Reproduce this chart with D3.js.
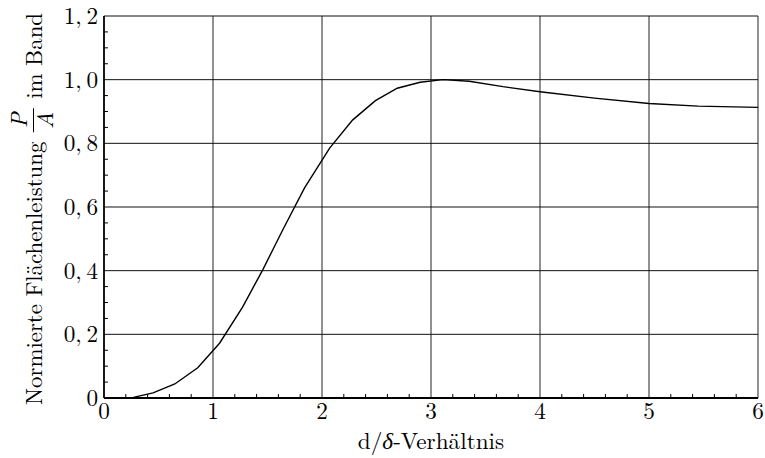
<!DOCTYPE html>
<html><head><meta charset="utf-8">
<script src="https://cdn.jsdelivr.net/npm/d3@7"></script>
<style>
body{margin:0;background:#fff;}
</style></head>
<body><svg id="c" width="765" height="458"></svg>
<script>
const xValues = [0, 0.27, 0.45, 0.65, 0.86, 1.06, 1.27, 1.46, 1.65, 1.84, 2.07, 2.28, 2.49, 2.69, 2.90, 3.11, 3.35, 3.66, 4.0, 4.5, 5.0, 5.45, 6.0];
const yValues = [0, 0.002, 0.016, 0.044, 0.095, 0.172, 0.285, 0.405, 0.535, 0.66, 0.785, 0.873, 0.934, 0.973, 0.992, 1.0, 0.995, 0.978, 0.962, 0.942, 0.925, 0.917, 0.913];
const xTicks = [0, 1, 2, 3, 4, 5, 6];
const xTickLabels = ["0", "1", "2", "3", "4", "5", "6"];
const yTicks = [0, 0.2, 0.4, 0.6, 0.8, 1.0, 1.2];
const yTickLabels = ["0", "0,\u20092", "0,\u20094", "0,\u20096", "0,\u20098", "1,\u20090", "1,\u20092"];

const FONT = "'Latin Modern Roman', 'CMU Serif', 'Liberation Serif', serif";
const FS = 23.2;
const FSY = 22.8;
const svg = d3.select("#c");
const L = 104, R = 758, T = 16, B = 398;
const x = d3.scaleLinear().domain([0, 6]).range([L, R]);
const y = d3.scaleLinear().domain([0, 1.2]).range([B, T]);

// grid
svg.append("g").selectAll("line").data(xTicks.slice(1)).join("line")
  .attr("x1", d => x(d)).attr("x2", d => x(d)).attr("y1", B).attr("y2", T)
  .attr("stroke", "#222").attr("stroke-width", 1);
svg.append("g").selectAll("line").data(yTicks.slice(1)).join("line")
  .attr("x1", L).attr("x2", R).attr("y1", d => y(d)).attr("y2", d => y(d))
  .attr("stroke", "#111").attr("stroke-width", 1);

// minor ticks
const xMinor = d3.range(0, 6.0001, 0.2).filter(v => Math.abs(v - Math.round(v)) > 1e-6);
svg.append("g").selectAll("line").data(xMinor).join("line")
  .attr("x1", d => x(d)).attr("x2", d => x(d)).attr("y1", B).attr("y2", B - 4)
  .attr("stroke", "#000").attr("stroke-width", 1);
const yMinor = d3.range(0, 1.2001, 0.05).filter(v => Math.abs(v * 5 - Math.round(v * 5)) > 1e-6);
svg.append("g").selectAll("line").data(yMinor).join("line")
  .attr("x1", L).attr("x2", L + 4).attr("y1", d => y(d)).attr("y2", d => y(d))
  .attr("stroke", "#000").attr("stroke-width", 1);

// axes lines
svg.append("line").attr("x1", L).attr("x2", R).attr("y1", B).attr("y2", B).attr("stroke", "#000").attr("stroke-width", 1.8);
svg.append("line").attr("x1", L).attr("x2", L).attr("y1", B).attr("y2", T).attr("stroke", "#000").attr("stroke-width", 1.8);

// tick labels
svg.append("g").selectAll("text").data(xTicks).join("text")
  .style("font-family", FONT).style("font-size", FS + "px")
  .attr("x", d => x(d)).attr("y", B + 21).attr("text-anchor", "middle")
  .text((d, i) => xTickLabels[i]);
svg.append("g").selectAll("text").data(yTicks).join("text")
  .style("font-family", FONT).style("font-size", FS + "px")
  .attr("x", L - 6).attr("y", d => y(d) + 8).attr("text-anchor", "end")
  .text((d, i) => yTickLabels[i]);

// curve
const line = d3.line().x(d => x(d[0])).y(d => y(d[1]));
svg.append("path").datum(xValues.map((v, i) => [v, yValues[i]]))
  .attr("d", line).attr("fill", "none").attr("stroke", "#000").attr("stroke-width", 1.4);

// x title
const xt = svg.append("text").style("font-family", FONT).style("font-size", FS + "px")
  .attr("x", 431).attr("y", 449).attr("text-anchor", "middle");
xt.append("tspan").text("d/");
xt.append("tspan").style("font-style", "italic").text("δ");
xt.append("tspan").text("-Verhältnis");

// y title (rotated)
const g = svg.append("g").attr("transform", "translate(42,405) rotate(-90)");
const t1 = g.append("text").style("font-family", FONT).style("font-size", FSY + "px").attr("x", 0).attr("y", 0).text("Normierte Flächenleistung");
const w1 = t1.node().getComputedTextLength();
const t3 = g.append("text").style("font-family", FONT).style("font-size", FSY + "px").attr("x", 392).attr("y", 0).attr("text-anchor", "end").text("im Band");
const w3 = t3.node().getComputedTextLength();
const fx = (w1 + (392 - w3)) / 2;
g.append("text").style("font-family", FONT).style("font-size", FSY + "px").style("font-style", "italic")
  .attr("x", fx).attr("y", -15).attr("text-anchor", "middle").text("P");
g.append("line").attr("x1", fx - 12).attr("x2", fx + 12).attr("y1", -8.5).attr("y2", -8.5).attr("stroke", "#000").attr("stroke-width", 1);
g.append("text").style("font-family", FONT).style("font-size", FSY + "px").style("font-style", "italic")
  .attr("x", fx).attr("y", 11).attr("text-anchor", "middle").text("A");
</script></body></html>
